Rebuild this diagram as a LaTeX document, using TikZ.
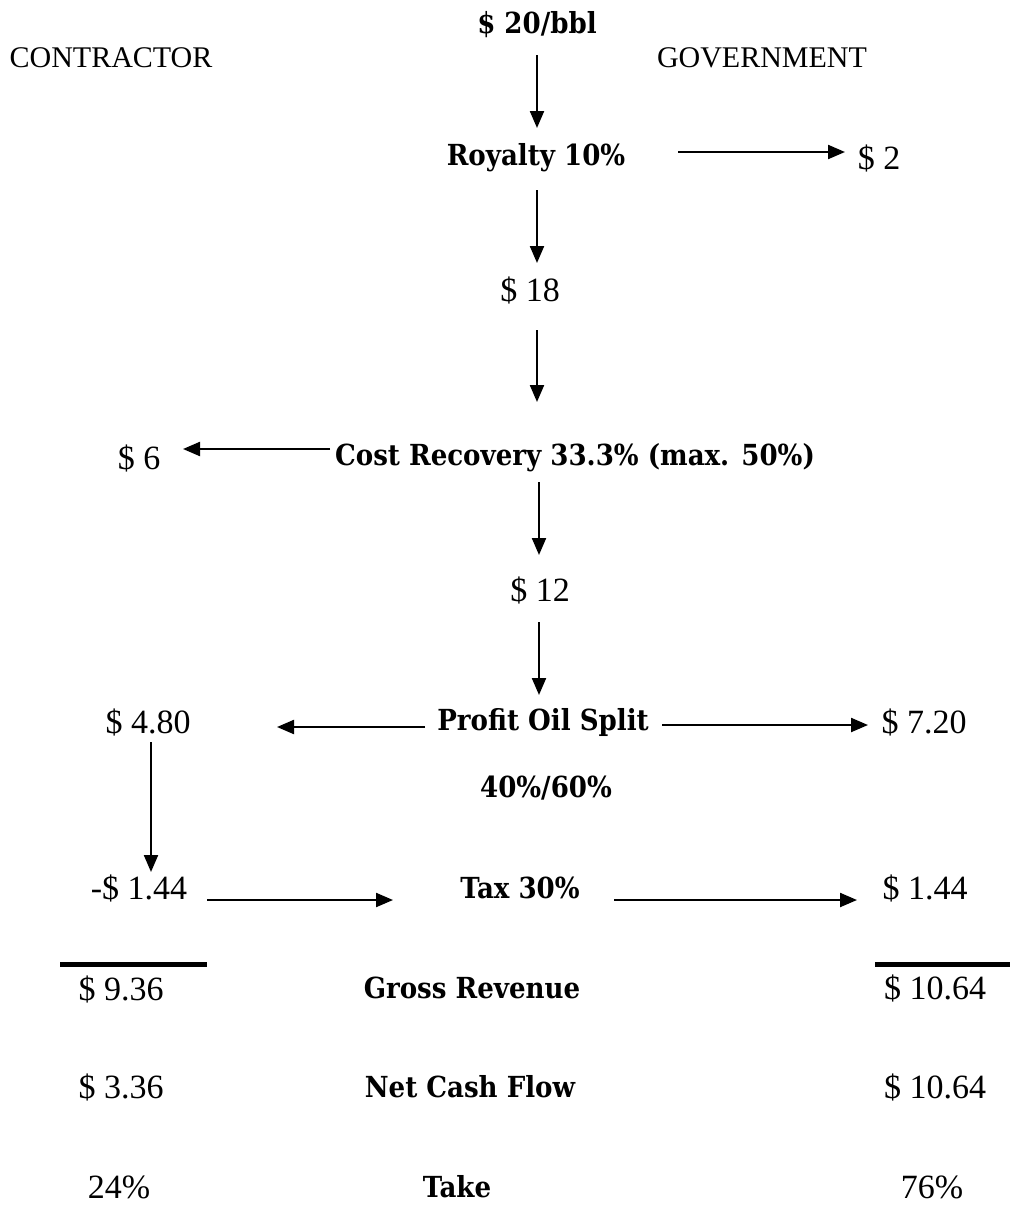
\documentclass[tikz,border=0pt]{standalone}
\usepackage{fontspec}
\setmainfont{Liberation Serif}
\newfontfamily\boldlab{DejaVu Serif Condensed Bold}
\usetikzlibrary{arrows.meta,calc}
\tikzset{
  reg/.style={inner sep=0pt, font=\fontsize{30}{34}\selectfont},
  num/.style={inner sep=0pt, font=\fontsize{34}{38}\selectfont},
  bld/.style={inner sep=0pt, font=\boldlab\fontsize{29}{33}\selectfont},
  arr/.style={line width=2.2pt, -{Triangle[length=17pt,width=14pt]}},
  rule/.style={line width=5pt}
}
\begin{document}
\begin{tikzpicture}[x=1pt,y=-1pt]
\useasboundingbox (0,0) rectangle (1010,1210);
\node[bld] (p20) at (537,25) {\$ 20/bbl};
\node[reg] (con) at (111,58) {CONTRACTOR};
\node[reg] (gov) at (762,58) {GOVERNMENT};
\node[bld] (roy) at (536,158) {Royalty 10\%};
\node[num] (g2) at (879,158) {\$ 2};
\node[num] (s18) at (530,290) {\$ 18};
\node[bld] (cr) at (575,458) {Cost Recovery 33.3\% (max. 50\%)};
\node[num] (s6) at (139,458) {\$ 6};
\node[num] (s12) at (540,590) {\$ 12};
\node[bld] (pos) at (543,722) {Profit Oil Split};
\node[num] (c480) at (148,722) {\$ 4.80};
\node[num] (g720) at (924,722) {\$ 7.20};
\node[bld] (split) at (546,788) {40\%/60\%};
\node[num] (c144) at (139,888) {-\$ 1.44};
\node[bld] (tax) at (520,888) {Tax 30\%};
\node[num] (g144) at (925,888) {\$ 1.44};
\node[num] (c936) at (121,989) {\$ 9.36};
\node[bld] (gross) at (472,988) {Gross Revenue};
\node[num] (g1064a) at (935,988) {\$ 10.64};
\node[num] (c336) at (121,1087) {\$ 3.36};
\node[bld] (ncf) at (470,1087) {Net Cash Flow};
\node[num] (g1064b) at (935,1087) {\$ 10.64};
\node[num] (c24) at (119,1187) {24\%};
\node[bld] (take) at (457,1187) {Take};
\node[num] (g76) at (932,1187) {76\%};
% connectors
\draw[arr, shorten <=30pt, shorten >=30pt] (p20.center) -- (p20.center |- roy.center);
\draw[arr, shorten <=142pt, shorten >=34pt] ([yshift=6pt]roy.center) -- ([yshift=6pt]g2.center);
\draw[arr, shorten <=32pt, shorten >=27pt] ([xshift=1pt]roy.center) -- ([xshift=1pt]roy.center |- s18.center);
\draw[arr, shorten <=40pt, shorten >=56pt] ([xshift=7pt]s18.center) -- ([xshift=7pt]s18.center |- cr.center);
\draw[arr, shorten <=245pt, shorten >=44pt] ([yshift=9pt]cr.center) -- ([yshift=9pt]s6.center);
\draw[arr, shorten <=24pt, shorten >=35pt] ([xshift=-1pt]s12.center |- cr.center) -- ([xshift=-1pt]s12.center);
\draw[arr, shorten <=32pt, shorten >=27pt] ([xshift=-1pt]s12.center) -- ([xshift=-1pt]s12.center |- pos.center);
\draw[arr, shorten <=118pt, shorten >=129pt] ([yshift=-5pt]pos.center) -- ([yshift=-5pt]c480.center);
\draw[arr, shorten <=119pt, shorten >=56pt] ([yshift=-3pt]pos.center) -- ([yshift=-3pt]g720.center);
\draw[arr, shorten <=20pt, shorten >=16pt] ([xshift=3pt]c480.center) -- ([xshift=3pt]c480.center |- c144.center);
\draw[arr, shorten <=68pt, shorten >=127pt] ([yshift=-12pt]c144.center) -- ([yshift=-12pt]tax.center);
\draw[arr, shorten <=94pt, shorten >=68pt] ([yshift=-12pt]tax.center) -- ([yshift=-12pt]g144.center);
% totals rules
\draw[rule] (60,964) -- (207,964);
\draw[rule] (875,964) -- (1010,964);
\end{tikzpicture}
\end{document}
